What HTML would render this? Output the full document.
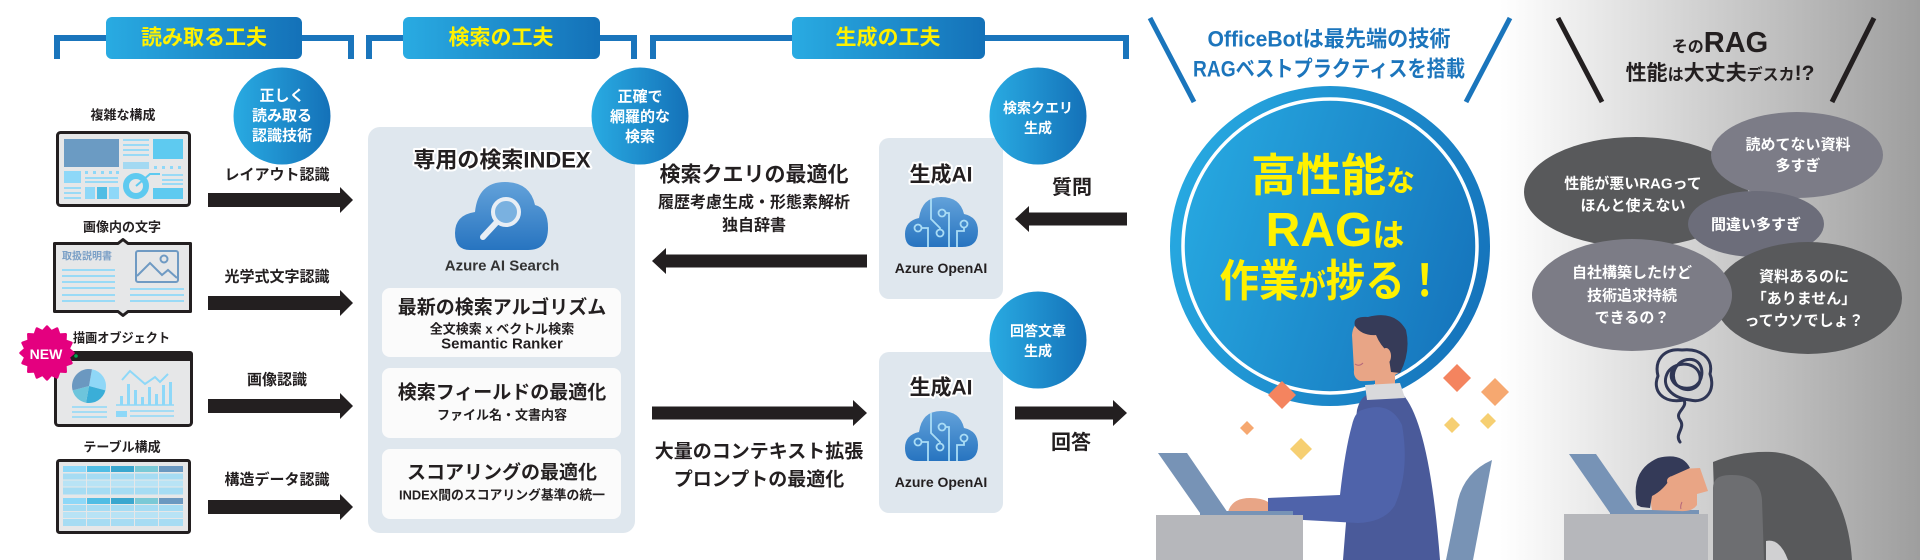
<!DOCTYPE html>
<html><head><meta charset="utf-8"><style>
html,body{margin:0;padding:0;background:#fff;width:1920px;height:560px;overflow:hidden}
svg{display:block}
text{font-family:"Liberation Sans","Noto Sans CJK JP",sans-serif;font-weight:bold}
</style></head><body>
<svg width="1920" height="560" viewBox="0 0 1920 560" xmlns="http://www.w3.org/2000/svg">
<defs>
<linearGradient id="gb" x1="0" y1="0" x2="1" y2="0"><stop offset="0" stop-color="#29abe2"/><stop offset="1" stop-color="#1471b8"/></linearGradient>
<linearGradient id="gbig" x1="0" y1="0.35" x2="1" y2="0.65"><stop offset="0" stop-color="#27a9e1"/><stop offset="1" stop-color="#1573bb"/></linearGradient>
<linearGradient id="gc" x1="0" y1="0" x2="0" y2="1"><stop offset="0" stop-color="#63a2da"/><stop offset="1" stop-color="#2774c0"/></linearGradient>
<linearGradient id="gbg" gradientUnits="userSpaceOnUse" x1="1500" y1="0" x2="1920" y2="0"><stop offset="0" stop-color="#ffffff"/><stop offset="1" stop-color="#9e9e9e"/></linearGradient>
</defs>

<rect x="1500" y="0" width="420" height="560" fill="url(#gbg)"/>

<!-- brackets & headers -->
<g fill="none" stroke="#1a75bc" stroke-width="6">
<path d="M57,59 V38 H351 V59"/>
<path d="M369,59 V38 H634 V59"/>
<path d="M653,59 V38 H1126 V59"/>
</g>
<rect x="106" y="17" width="196" height="42" rx="6" fill="url(#gb)"/>
<rect x="403" y="17" width="197" height="42" rx="6" fill="url(#gb)"/>
<rect x="792" y="17" width="193" height="42" rx="6" fill="url(#gb)"/>
<g fill="#fff100" font-size="21" text-anchor="middle" dominant-baseline="central">
<text x="204" y="38">読み取る工夫</text>
<text x="501" y="38">検索の工夫</text>
<text x="888" y="38">生成の工夫</text>
</g>

<!-- left labels -->
<g fill="#231f20" font-size="13" text-anchor="middle" dominant-baseline="central">
<text x="123" y="115">複雑な構成</text>
<text x="122" y="227">画像内の文字</text>
<text x="122" y="447">テーブル構成</text>
</g>

<!-- icon 1 -->
<rect x="57.5" y="132.5" width="132" height="73" rx="3" fill="#e6e7e8" stroke="#231f20" stroke-width="3"/>
<rect x="64" y="139" width="55" height="28" fill="#6b9bc3"/>
<g stroke="#8ed8f8" stroke-width="1.8">
<path d="M123,140H149M123,145H149M123,150H149M123,155H149"/>
<path d="M85,178H118M85,182H118M64,188H81M64,193H81M64,198H81M162,175H183M162,180H183M162,184H183"/>
</g>
<rect x="123" y="162" width="26" height="7" fill="#a3d9f2"/>
<rect x="153" y="139" width="30" height="20" fill="#5ecaf0"/>
<g fill="#8ed8f8">
<rect x="154" y="166" width="3" height="3"/><rect x="162" y="166" width="3" height="3"/><rect x="170" y="166" width="3" height="3"/><rect x="178" y="166" width="3" height="3"/>
<rect x="85" y="171" width="3" height="3"/><rect x="93" y="171" width="3" height="3"/><rect x="101" y="171" width="3" height="3"/><rect x="109" y="171" width="3" height="3"/><rect x="116" y="171" width="3" height="3"/>
<rect x="64" y="171" width="17" height="12"/>
<rect x="85" y="187" width="10" height="12"/><rect x="109" y="187" width="10" height="12"/>
</g>
<rect x="97" y="187" width="10" height="12" fill="#50bde4"/>
<circle cx="136" cy="186" r="10" fill="none" stroke="#5ecaf0" stroke-width="6"/>
<path d="M136,186 L150,174 H160" fill="none" stroke="#5ecaf0" stroke-width="2"/>
<rect x="153" y="188" width="30" height="11" fill="#5ecaf0"/>

<!-- icon 2 -->
<path d="M54.5,243.5 H118 L123,239.5 L128,243.5 H190.5 V311.5 H128 L123,315.5 L118,311.5 H54.5 Z" fill="#e6e7e8" stroke="#231f20" stroke-width="3" stroke-linejoin="round"/>
<text x="62" y="257" font-size="10" fill="#7a9fc6" dominant-baseline="central">取扱説明書</text>
<g stroke="#8ed8f8" stroke-width="1.8">
<path d="M62,270H115M62,276H115M62,282H115M62,288H115M62,295H115M62,301H115M130,289H184M130,295H184M130,301H184"/>
</g>
<rect x="136" y="251" width="42" height="31" rx="2" fill="none" stroke="#6f9ac3" stroke-width="2"/>
<polyline points="137,276 150,263 162,275 168,270 177,278" fill="none" stroke="#6f9ac3" stroke-width="2"/>
<circle cx="164" cy="259" r="3.5" fill="none" stroke="#6f9ac3" stroke-width="2"/>

<!-- icon 3 -->
<rect x="55.5" y="352.5" width="136" height="73" rx="3" fill="#e6e7e8" stroke="#231f20" stroke-width="3"/>
<rect x="54" y="351" width="139" height="10" rx="3" fill="#231f20"/>
<circle cx="76" cy="356" r="1.8" fill="#00a650"/>
<path d="M89,386 L91.95,369.26 A17,17 0 0 1 105.42,390.4 Z" fill="#8fd7f7"/>
<path d="M89,386 L105.42,390.4 A17,17 0 0 1 86.05,402.74 Z" fill="#3aaed8"/>
<path d="M89,386 L86.05,402.74 A17,17 0 0 1 72.58,390.4 Z" fill="#6dc5dc"/>
<path d="M89,386 L72.58,390.4 A17,17 0 0 1 91.95,369.26 Z" fill="#6b98c0"/>
<g stroke="#8ed8f8" stroke-width="1.6" fill="none">
<path d="M72,407H107M72,412H107M72,417H107M130,411H174M130,416H174M116,405H174"/>
<polyline points="122,380 130,371 145,384 155,377 160,382 168,374" stroke-width="2"/>
</g>
<g fill="#8ed8f8">
<rect x="120" y="396" width="3" height="9"/><rect x="127" y="384" width="3" height="21"/><rect x="134" y="390" width="3" height="15"/><rect x="141" y="397" width="3" height="8"/><rect x="148" y="387" width="3" height="18"/><rect x="155" y="394" width="3" height="11"/><rect x="162" y="385" width="3" height="20"/><rect x="169" y="382" width="3" height="23"/>
<rect x="116" y="411" width="11" height="6"/>
</g>

<!-- NEW badge -->
<g transform="translate(47,353) scale(0.88) translate(-47,-353)">
<polygon fill="#e4007f" stroke="#e4007f" stroke-width="3" stroke-linejoin="round" points="77,353 71.5,357.9 74.7,364.5 67.8,366.9 68.2,374.2 60.9,373.8 58.5,380.7 51.9,377.5 47,383 42.1,377.5 35.5,380.7 33.1,373.8 25.8,374.2 26.2,366.9 19.3,364.5 22.5,357.9 17,353 22.5,348.1 19.3,341.5 26.2,339.1 25.8,331.8 33.1,332.2 35.5,325.3 42.1,328.5 47,323 51.9,328.5 58.5,325.3 60.9,332.2 68.2,331.8 67.8,339.1 74.7,341.5 71.5,348.1"/>
</g>
<text x="46" y="354" font-size="14" fill="#fff" text-anchor="middle" dominant-baseline="central">NEW</text>
<text x="73" y="338" font-size="13" fill="#231f20" dominant-baseline="central" textLength="97" lengthAdjust="spacingAndGlyphs">描画オブジェクト</text>

<!-- icon 4 -->
<rect x="57.5" y="460.5" width="132" height="72" rx="2" fill="#e6e7e8" stroke="#231f20" stroke-width="3"/>
<g>
<rect x="63" y="466" width="23" height="6" fill="#8ed8f8"/><rect x="87" y="466" width="23" height="6" fill="#50bde4"/><rect x="111" y="466" width="23" height="6" fill="#3aa7cf"/><rect x="135" y="466" width="23" height="6" fill="#7ac9d6"/><rect x="159" y="466" width="24" height="6" fill="#6b98c0"/>
<rect x="63" y="498" width="23" height="6" fill="#8ed8f8"/><rect x="87" y="498" width="23" height="6" fill="#50bde4"/><rect x="111" y="498" width="23" height="6" fill="#3aa7cf"/><rect x="135" y="498" width="23" height="6" fill="#7ac9d6"/><rect x="159" y="498" width="24" height="6" fill="#6b98c0"/>
</g>
<g fill="#a6dcf3">
<rect x="63" y="473.5" width="120" height="6"/><rect x="63" y="487.5" width="120" height="7"/>
<rect x="63" y="505" width="120" height="6"/><rect x="63" y="519" width="120" height="7"/>
</g>
<g fill="#b8e3f5">
<rect x="63" y="480.5" width="120" height="6"/><rect x="63" y="512" width="120" height="6"/>
</g>
<g stroke="#e6e7e8" stroke-width="1">
<path d="M86.5,473V495M110.5,473V495M134.5,473V495M158.5,473V495M86.5,505V526M110.5,505V526M134.5,505V526M158.5,505V526"/>
</g>

<!-- arrows -->
<g fill="#231f20">
<polygon points="208,193 340,193 340,187 353,200 340,213 340,207 208,207"/>
<polygon points="208,296 340,296 340,290 353,303 340,316 340,310 208,310"/>
<polygon points="208,399 340,399 340,393 353,406 340,419 340,413 208,413"/>
<polygon points="208,500 340,500 340,494 353,507 340,520 340,514 208,514"/>
<polygon points="867,254.5 666,254.5 666,248 652,261 666,274 666,267.5 867,267.5"/>
<polygon points="652,406.5 853,406.5 853,400 867,413 853,426 853,419.5 652,419.5"/>
<polygon points="1127,212.5 1029,212.5 1029,206 1015,219 1029,232 1029,225.5 1127,225.5"/>
<polygon points="1015,406.5 1113,406.5 1113,400 1127,413 1113,426 1113,419.5 1015,419.5"/>
</g>
<g fill="#231f20" font-size="15" text-anchor="middle" dominant-baseline="central">
<text x="277" y="175">レイアウト認識</text>
<text x="277" y="277">光学式文字認識</text>
<text x="277" y="380">画像認識</text>
<text x="277" y="480">構造データ認識</text>
</g>

<!-- search panel -->
<rect x="368" y="127" width="267" height="406" rx="12" fill="#dfe7ee"/>
<text x="502" y="160" font-size="22" fill="#231f20" text-anchor="middle" dominant-baseline="central" stroke="#fff" stroke-width="4" paint-order="stroke" stroke-linejoin="round">専用の検索INDEX</text>
<path d="M470,250 Q455,250 455,233 Q455,215 475,212 Q478,182 505,182 Q530,182 535,205 Q548,208 548,228 Q548,250 528,250 Z" fill="url(#gc)"/>
<line x1="496" y1="223" x2="483" y2="237" stroke="#e8eef5" stroke-width="6" stroke-linecap="round"/>
<circle cx="506" cy="212" r="13" fill="#7ab1e0" stroke="#e8eef5" stroke-width="4"/>
<text x="502" y="266" font-size="15" fill="#333" text-anchor="middle" dominant-baseline="central">Azure AI Search</text>
<rect x="382" y="288" width="239" height="69" rx="8" fill="#fbfbfb"/>
<rect x="382" y="368" width="239" height="70" rx="8" fill="#fbfbfb"/>
<rect x="382" y="449" width="239" height="70" rx="8" fill="#fbfbfb"/>
<g fill="#231f20" text-anchor="middle" dominant-baseline="central">
<text x="502" y="308" font-size="19">最新の検索アルゴリズム</text>
<text x="502" y="329" font-size="13">全文検索 x ベクトル検索</text>
<text x="502" y="344" font-size="15">Semantic Ranker</text>
<text x="502" y="393" font-size="19">検索フィールドの最適化</text>
<text x="502" y="415" font-size="13">ファイル名・文書内容</text>
<text x="502" y="473" font-size="19">スコアリングの最適化</text>
<text x="502" y="495" font-size="13" textLength="206" lengthAdjust="spacingAndGlyphs">INDEX間のスコアリング基準の統一</text>
</g>

<!-- middle texts -->
<g fill="#231f20" text-anchor="middle" dominant-baseline="central">
<text x="754" y="175" font-size="21">検索クエリの最適化</text>
<text x="754" y="203" font-size="16">履歴考慮生成・形態素解析</text>
<text x="754" y="226" font-size="16">独自辞書</text>
<text x="759" y="452" font-size="19">大量のコンテキスト拡張</text>
<text x="759" y="480" font-size="19">プロンプトの最適化</text>
<text x="1072" y="188" font-size="20">質問</text>
<text x="1071" y="443" font-size="20">回答</text>
</g>

<!-- gen AI boxes -->
<rect x="879" y="138" width="124" height="161" rx="10" fill="#dfe7ee"/>
<rect x="879" y="352" width="124" height="161" rx="10" fill="#dfe7ee"/>
<g id="oa">
<path d="M916,247 Q905,247 905,234 Q905,221 919,218 Q922,197 941,197 Q960,197 964,214 Q978,217 978,231 Q978,247 962,247 Z" fill="url(#gc)"/>
<g fill="none" stroke="#a9dcf5" stroke-width="1.8">
<path d="M931,199 V219 L940,228 V230"/><circle cx="940" cy="233" r="3.5"/>
<circle cx="918" cy="228" r="3.5"/><path d="M921.5,228 H928 V247"/>
<circle cx="942" cy="213" r="3.5"/><path d="M945.5,213 H949 V247"/>
<circle cx="964" cy="224" r="3.5"/><path d="M964,227.5 V231 H957 V247"/>
</g>
</g>
<use href="#oa" transform="translate(0,214)"/>
<g fill="#231f20" text-anchor="middle" dominant-baseline="central">
<text x="941" y="175" font-size="21" stroke="#fff" stroke-width="4" paint-order="stroke" stroke-linejoin="round">生成AI</text>
<text x="941" y="268" font-size="14">Azure OpenAI</text>
<text x="941" y="388" font-size="21" stroke="#fff" stroke-width="4" paint-order="stroke" stroke-linejoin="round">生成AI</text>
<text x="941" y="482" font-size="14">Azure OpenAI</text>
</g>

<!-- circles -->
<circle cx="282" cy="116" r="48.5" fill="url(#gb)"/>
<circle cx="640" cy="116" r="48.5" fill="url(#gb)"/>
<circle cx="1038" cy="116" r="48.5" fill="url(#gb)"/>
<circle cx="1038" cy="340" r="48.5" fill="url(#gb)"/>
<g fill="#fff" text-anchor="middle" dominant-baseline="central">
<text x="282" y="96" font-size="15">正しく</text>
<text x="282" y="116" font-size="15">読み取る</text>
<text x="282" y="136" font-size="15">認識技術</text>
<text x="640" y="97" font-size="15">正確で</text>
<text x="640" y="117" font-size="15">網羅的な</text>
<text x="640" y="137" font-size="15">検索</text>
<text x="1038" y="108" font-size="14">検索クエリ</text>
<text x="1038" y="128" font-size="14">生成</text>
<text x="1038" y="331" font-size="14">回答文章</text>
<text x="1038" y="351" font-size="14">生成</text>
</g>

<!-- OfficeBot section -->
<g stroke="#1a75bc" stroke-width="5">
<line x1="1150" y1="18" x2="1194" y2="102"/>
<line x1="1510" y1="18" x2="1466" y2="102"/>
</g>
<g fill="#1c75bc" text-anchor="middle" dominant-baseline="central">
<text x="1329" y="39" font-size="22" textLength="243" lengthAdjust="spacingAndGlyphs">OfficeBotは最先端の技術</text>
<text x="1329" y="69" font-size="22" textLength="272" lengthAdjust="spacingAndGlyphs">RAGベストプラクティスを搭載</text>
</g>
<circle cx="1330" cy="246" r="160" fill="url(#gbig)"/>
<circle cx="1330" cy="246" r="147" fill="none" stroke="#fff" stroke-width="3.5"/>
<g fill="#fff100" text-anchor="middle">
<text x="1333" y="191" font-size="45"><tspan>高性能</tspan><tspan font-size="29">な</tspan></text>
<text x="1335" y="246" font-size="48"><tspan>RAG</tspan><tspan font-size="32">は</tspan></text>
<text x="1332" y="296" font-size="44" textLength="225" lengthAdjust="spacingAndGlyphs"><tspan>作業</tspan><tspan font-size="30">が</tspan><tspan>捗る！</tspan></text>
</g>

<!-- diamonds -->
<polygon points="1282,381 1296,395 1282,409 1268,395" fill="#f4845f"/>
<polygon points="1457,364 1471,378 1457,392 1443,378" fill="#f4845f"/>
<polygon points="1495,378 1509,392 1495,406 1481,392" fill="#f6a870"/>
<polygon points="1247,421 1254,428 1247,435 1240,428" fill="#f6a870"/>
<polygon points="1301,438 1312,449 1301,460 1290,449" fill="#f6cf72"/>
<polygon points="1452,417 1460,425 1452,433 1444,425" fill="#f6cf72"/>
<polygon points="1488,413 1496,421 1488,429 1480,421" fill="#f6cf72"/>

<!-- happy person -->
<path d="M1492,460 L1473,560 L1446,560 L1458,500 Q1465,472 1492,460 Z" fill="#7893b5"/>
<rect x="1375" y="368" width="20" height="22" fill="#e8a586"/>
<path d="M1367,395 Q1400,388 1405,397 Q1430,430 1440,560 L1343,560 Q1350,470 1357,410 Q1360,398 1367,395 Z" fill="#4a5a9a"/>
<polygon points="1365,385 1400,383 1405,398 1367,400" fill="#d9d9db"/>
<path d="M1362,410 Q1390,400 1402,425 Q1410,470 1395,505 Q1385,522 1358,523 L1268,518 L1268,498 L1340,495 Q1345,450 1352,425 Q1355,412 1362,410 Z" fill="#4f63aa"/>
<path d="M1228,512 Q1232,498 1250,498 Q1262,498 1268,502 L1268,512 Z" fill="#e8a586"/>
<polygon points="1158,453 1187,453 1228,513 1200,513" fill="#7793b6"/>
<rect x="1200" y="511" width="93" height="5" fill="#7793b6"/>
<rect x="1156" y="515" width="147" height="45" fill="#b6b7bb"/>
<path d="M1360,322 L1395,320 L1400,372 Q1385,382 1360,381 Q1353,378 1354,370 L1352,335 Q1353,324 1360,322 Z" fill="#e8a586"/>
<path d="M1355,326 Q1352,316 1368,317 Q1395,310 1406,330 Q1411,352 1400,373 L1391,372 L1388,352 Q1380,345 1376,335 Q1362,336 1355,326 Z" fill="#363b58"/>
<ellipse cx="1386" cy="356" rx="5" ry="8" fill="#e8a586"/>
<path d="M1355,364 Q1359,367 1363,363" fill="none" stroke="#b5667a" stroke-width="1"/>

<!-- right gray section -->
<g stroke="#231f20" stroke-width="5">
<line x1="1558" y1="18" x2="1602" y2="102"/>
<line x1="1874" y1="18" x2="1832" y2="102"/>
</g>
<g fill="#231f20" text-anchor="middle">
<text x="1720" y="52"><tspan font-size="16">その</tspan><tspan font-size="29">RAG</tspan></text>
<text x="1720" y="80" font-size="21"><tspan>性能</tspan><tspan font-size="16">は</tspan><tspan>大丈夫</tspan><tspan font-size="16">デスカ</tspan><tspan>!?</tspan></text>
</g>
<ellipse cx="1636" cy="192" rx="112" ry="55" fill="#58595b"/>
<ellipse cx="1797" cy="155" rx="86" ry="43" fill="#7c7c87"/>
<ellipse cx="1756" cy="224" rx="68" ry="33" fill="#6c6d7a"/>
<ellipse cx="1808" cy="298" rx="94" ry="56" fill="#58595b"/>
<ellipse cx="1632" cy="295" rx="100" ry="56" fill="#7c7c86"/>
<g fill="#fff" font-size="15" text-anchor="middle" dominant-baseline="central">
<text x="1633" y="184">性能が悪いRAGって</text>
<text x="1633" y="206">ほんと使えない</text>
<text x="1798" y="145">読めてない資料</text>
<text x="1798" y="166">多すぎ</text>
<text x="1756" y="225">間違い多すぎ</text>
<text x="1632" y="273">自社構築したけど</text>
<text x="1632" y="296">技術追求持続</text>
<text x="1632" y="318">できるの？</text>
<text x="1804" y="277">資料あるのに</text>
<text x="1804" y="299">「ありません」</text>
<text x="1804" y="321">ってウソでしょ？</text>
</g>
<path d="M1680,442 C1674,434 1686,428 1680,420 C1674,412 1688,408 1684,400 C1662,404 1652,390 1658,376 C1654,360 1664,348 1682,350 C1700,348 1714,358 1710,374 C1716,390 1706,404 1690,400 C1672,398 1660,386 1668,372 C1676,360 1698,362 1700,376 C1702,390 1684,394 1676,384 C1668,372 1680,356 1694,360 C1706,364 1704,386 1690,388 C1676,390 1666,378 1674,368" fill="none" stroke="#2f3655" stroke-width="3" stroke-linecap="round" stroke-linejoin="round"/>

<!-- sad person -->
<polygon points="1569,454 1596,454 1637,513 1610,513" fill="#7793b6"/>
<rect x="1610" y="510" width="89" height="5" fill="#7793b6"/>
<rect x="1564" y="514" width="144" height="46" fill="#b6b7bb"/>
<path d="M1713,462 C1730,455 1750,451 1772,452 C1820,455 1848,500 1852,560 L1716,560 Z" fill="#58595b"/>
<path d="M1713,560 L1713,488 Q1713,475 1730,475 Q1760,474 1762,500 L1764,560 Z" fill="#6d6e71"/>
<path d="M1766,560 L1766,541 Q1780,538 1788,560 Z" fill="#d0d0d2"/>
<path d="M1660,470 L1700,468 L1708,491 L1697,494 L1697,505 Q1692,512 1680,511 L1652,510 Q1648,495 1660,470 Z" fill="#e9a585"/>
<path d="M1637,505 Q1630,470 1658,458 Q1682,452 1690,468 L1672,476 Q1664,490 1652,496 L1650,508 L1641,507 Z" fill="#343a58"/>
<ellipse cx="1673" cy="481" rx="6" ry="5" fill="#e9a585"/>
<path d="M1682,502 Q1680,506 1681,509" fill="none" stroke="#b5667a" stroke-width="1"/>
</svg>
</body></html>
